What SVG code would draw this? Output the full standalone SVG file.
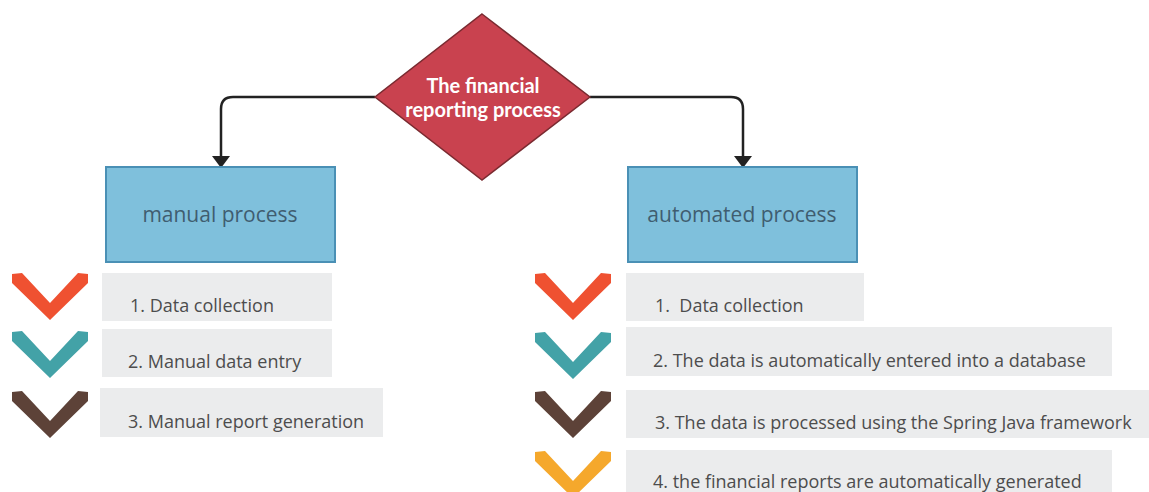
<svg xmlns="http://www.w3.org/2000/svg" width="1149" height="492" viewBox="0 0 1149 492">
  <style>
    .decision { fill: #c9424f; stroke: #7a2a30; stroke-width: 1.5; }
    .title { font-family: Lato, "Open Sans", "Liberation Sans", sans-serif; font-weight: bold; font-size: 20px; fill: #ffffff; text-anchor: middle; }
    .branch { fill: #7fc0dc; stroke: #4a90b5; stroke-width: 2; }
    .branch-label { font-family: "Open Sans", "Liberation Sans", sans-serif; font-size: 21px; fill: #3f5d70; text-anchor: middle; }
    .step { fill: #ebeced; }
    .step-label { font-family: "Open Sans", "Liberation Sans", sans-serif; font-size: 18px; fill: #4d4d4d; }
    .link { fill: none; stroke: #222222; stroke-width: 2.5; }
    .head { fill: #222222; }
    .c-orange { fill: #ef5131; }
    .c-teal { fill: #43a2a7; }
    .c-brown { fill: #5d4238; }
    .c-yellow { fill: #f5a82c; }
  </style>
  <defs>
    <polygon id="chevron" points="0,1 10,0 38,30 66,0 76,1 76,10 38,47 0,10"/>
  </defs>

  <rect width="1149" height="492" fill="#ffffff"/>

  <!-- connectors -->
  <g id="connectors">
    <path class="link" d="M375,97 H233 Q221,97 221,109 V157"/>
    <polygon class="head" points="212,156 230,156 221,168"/>
    <path class="link" d="M590,97 H731 Q743,97 743,109 V157"/>
    <polygon class="head" points="734,156 752,156 743,168"/>
  </g>

  <!-- decision -->
  <g id="financial-reporting">
    <polygon class="decision" points="482,14 590,97 482,180 375,97"/>
    <text class="title" x="483" y="93">The financial</text>
    <text class="title" x="483" y="117">reporting process</text>
  </g>

  <!-- branches -->
  <g id="manual-process">
    <rect class="branch" x="106" y="167" width="229" height="95"/>
    <text class="branch-label" x="220" y="222">manual process</text>
  </g>
  <g id="automated-process">
    <rect class="branch" x="628" y="167" width="229" height="95"/>
    <text class="branch-label" x="742" y="222">automated process</text>
  </g>

  <!-- manual steps -->
  <g id="manual-step-1">
    <use href="#chevron" class="c-orange" x="12" y="273"/>
    <rect class="step" x="102" y="273" width="230" height="48"/>
    <text class="step-label" x="130" y="312">1. Data collection</text>
  </g>
  <g id="manual-step-2">
    <use href="#chevron" class="c-teal" x="12" y="331"/>
    <rect class="step" x="102" y="329" width="230" height="48"/>
    <text class="step-label" x="128" y="368">2. Manual data entry</text>
  </g>
  <g id="manual-step-3">
    <use href="#chevron" class="c-brown" x="12" y="391"/>
    <rect class="step" x="100" y="388" width="283" height="49"/>
    <text class="step-label" x="128" y="428">3. Manual report generation</text>
  </g>

  <!-- automated steps -->
  <g id="automated-step-1">
    <use href="#chevron" class="c-orange" x="535" y="273"/>
    <rect class="step" x="626" y="273" width="238" height="48"/>
    <text class="step-label" x="655" y="312" xml:space="preserve">1.  Data collection</text>
  </g>
  <g id="automated-step-2">
    <use href="#chevron" class="c-teal" x="535" y="332"/>
    <rect class="step" x="626" y="327" width="486" height="49"/>
    <text class="step-label" x="653" y="367">2. The data is automatically entered into a database</text>
  </g>
  <g id="automated-step-3">
    <use href="#chevron" class="c-brown" x="535" y="391"/>
    <rect class="step" x="626" y="390" width="523" height="48"/>
    <text class="step-label" x="655" y="429">3. The data is processed using the Spring Java framework</text>
  </g>
  <g id="automated-step-4">
    <use href="#chevron" class="c-yellow" x="535" y="451"/>
    <rect class="step" x="626" y="450" width="486" height="42"/>
    <text class="step-label" x="653" y="488">4. the financial reports are automatically generated</text>
  </g>
</svg>
